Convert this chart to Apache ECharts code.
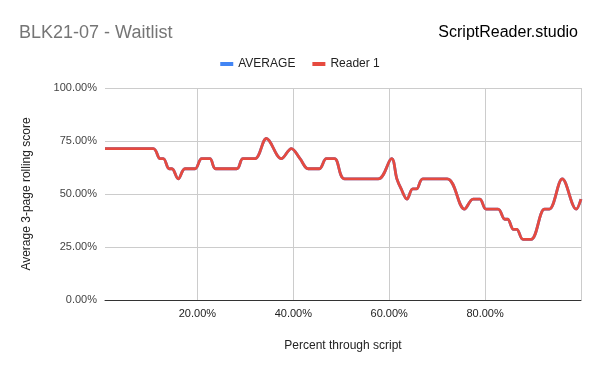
<!DOCTYPE html>
<html>
<head>
<meta charset="utf-8">
<script src="https://cdn.jsdelivr.net/npm/echarts@6/dist/echarts.min.js"></script>
<style>
html,body{margin:0;padding:0;background:#fff;}
#chart{width:600px;height:371px;}
</style>
</head>
<body>
<div id="chart"></div>
<script>
// Percent through script (x) and 3-page rolling score (%)
const xPercent = [0.73, 10.8, 12.2, 12.9, 14.1, 14.7, 16.0, 17.4, 19.5, 20.9, 22.6, 23.8, 28.2, 29.5, 32.0, 34.4, 37.5, 39.6, 41.4, 43.1, 45.4, 46.9, 48.6, 50.7, 57.7, 60.5, 61.6, 62.5, 63.7, 64.9, 65.7, 67.0, 72.1, 75.7, 77.5, 78.9, 80.2, 82.7, 84.1, 84.7, 85.9, 86.6, 87.9, 89.6, 92.4, 93.4, 96.1, 99.0, 100];
const reader1 = [71.43, 71.43, 66.67, 66.67, 61.90, 61.90, 57.14, 61.90, 61.90, 66.67, 66.67, 61.90, 61.90, 66.67, 66.67, 76.19, 66.67, 71.43, 66.67, 61.90, 61.90, 66.67, 66.67, 57.14, 57.14, 66.67, 57.14, 52.38, 47.62, 52.38, 52.38, 57.14, 57.14, 42.86, 47.62, 47.62, 42.86, 42.86, 38.10, 38.10, 33.33, 33.33, 28.57, 28.57, 42.86, 42.86, 57.14, 42.86, 47.62];
const average = reader1.slice();
const xLabelValues = [20, 40, 60, 80];
const xGridValues = [20, 40, 60, 80, 100];

const pairs = (xs, ys) => xs.map((x, i) => [x, ys[i]]);
const chart = echarts.init(document.getElementById('chart'));
const fmt = v => v.toFixed(2) + '%';
chart.setOption({
  animation: false,
  textStyle: {fontFamily: 'Liberation Sans, Arial, sans-serif'},
  title: [
    {text: 'BLK21-07 - Waitlist', left: 14, top: 19, textStyle: {fontSize: 18, fontWeight: 'normal', color: '#757575'}},
    {text: 'ScriptReader.studio', right: 17, top: 20, textStyle: {fontSize: 16, fontWeight: 'normal', color: '#000'}}
  ],
  legend: {
    top: 53, left: 'center', itemWidth: 13, itemHeight: 4, itemGap: 17,
    icon: 'rect',
    textStyle: {fontSize: 12, color: '#222'},
    data: ['AVERAGE', 'Reader 1']
  },
  grid: {left: 105, right: 19, top: 88, bottom: 71},
  xAxis: {
    type: 'value', min: 0.73, max: 100,
    name: 'Percent through script', nameLocation: 'middle', nameGap: 40,
    nameTextStyle: {fontSize: 12, color: '#222'},
    axisLine: {show: true, lineStyle: {color: '#333'}},
    axisTick: {show: false, customValues: xGridValues},
    axisLabel: {customValues: xLabelValues, formatter: fmt, fontSize: 11, color: '#222', margin: 8},
    splitLine: {show: true, lineStyle: {color: '#cccccc', width: 1}}
  },
  yAxis: {
    type: 'value', min: 0, max: 100, interval: 25,
    name: 'Average 3-page rolling score', nameLocation: 'middle', nameGap: 72,
    nameTextStyle: {fontSize: 12, color: '#222'},
    axisLine: {show: false},
    axisTick: {show: false},
    axisLabel: {formatter: fmt, fontSize: 11, color: '#444', margin: 8},
    splitLine: {show: true, lineStyle: {color: '#cccccc', width: 1}}
  },
  series: [
    {name: 'AVERAGE', type: 'line', data: pairs(xPercent, average), smooth: 0.35, showSymbol: false,
     itemStyle: {color: '#4285f4'}, lineStyle: {color: '#4285f4', width: 2.8}, z: 2},
    {name: 'Reader 1', type: 'line', data: pairs(xPercent, reader1), smooth: 0.35, showSymbol: false,
     itemStyle: {color: '#e64a3f'}, lineStyle: {color: '#e64a3f', width: 2.8}, z: 3}
  ]
});
</script>
</body>
</html>
